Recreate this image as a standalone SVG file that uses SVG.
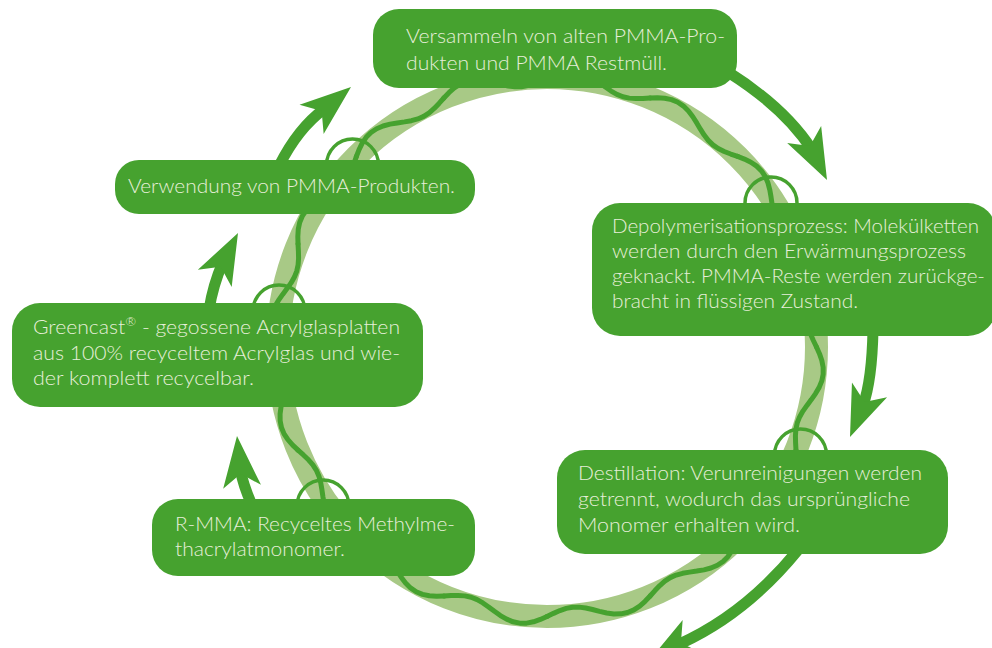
<svg xmlns="http://www.w3.org/2000/svg" xmlns:xlink="http://www.w3.org/1999/xlink" width="992" height="648" viewBox="0 0 992 648">
<style>
.box{fill:#46a22f}
.t{font-family:Lato,"Liberation Sans",sans-serif;font-weight:300;font-size:19.5px;fill:#e6efd9}
.shaft{fill:none;stroke:#46a22f;stroke-width:11}
.head{fill:#46a22f}
.ring{fill:none;stroke:#a8c986;stroke-width:23}
.wave{fill:none;stroke:#46a22f;stroke-width:5;stroke-linejoin:round;stroke-linecap:round}
.mark{fill:none;stroke:#46a22f;stroke-width:3.5}
</style>
<defs>
<path id="wv" d="M269.5,0 L272.48,6.69 L274.83,13.5 L276.14,20.37 L276.16,27.2 L274.81,33.89 L272.18,40.37 L268.55,46.6 L264.32,52.58 L259.97,58.38 L255.93,64.11 L252.62,69.91 L250.24,75.91 L248.88,82.22 L248.42,88.89 L248.59,95.89 L248.99,103.13"/>
<path id="hd" d="M0,0 L-51,-19 L-38,0 L-51,19 Z"/>
</defs>
<g id="ring">
<circle class="ring" cx="547" cy="347" r="269.5"/>
<g class="wave" transform="translate(547 347)">
<use xlink:href="#wv"/>
<use xlink:href="#wv" transform="rotate(22.5)"/>
<use xlink:href="#wv" transform="rotate(45)"/>
<use xlink:href="#wv" transform="rotate(67.5)"/>
<use xlink:href="#wv" transform="rotate(90)"/>
<use xlink:href="#wv" transform="rotate(112.5)"/>
<use xlink:href="#wv" transform="rotate(135)"/>
<use xlink:href="#wv" transform="rotate(157.5)"/>
<use xlink:href="#wv" transform="rotate(180)"/>
<use xlink:href="#wv" transform="rotate(202.5)"/>
<use xlink:href="#wv" transform="rotate(225)"/>
<use xlink:href="#wv" transform="rotate(247.5)"/>
<use xlink:href="#wv" transform="rotate(270)"/>
<use xlink:href="#wv" transform="rotate(292.5)"/>
<use xlink:href="#wv" transform="rotate(315)"/>
<use xlink:href="#wv" transform="rotate(337.5)"/>
</g>
<circle class="mark" cx="352.5" cy="165" r="26"/>
<circle class="mark" cx="279" cy="311" r="26"/>
<circle class="mark" cx="323" cy="506" r="26"/>
<circle class="mark" cx="771" cy="203" r="26"/>
<circle class="mark" cx="800.5" cy="455" r="26"/>
</g>
<g id="connectors">
<path class="shaft" d="M728,72 Q785,108 811.8,149.6"/>
<use class="head" xlink:href="#hd" transform="translate(827 180) rotate(63.4)"/>
<path class="shaft" d="M873,330 Q872,380 863,405.6"/>
<use class="head" xlink:href="#hd" transform="translate(850 437) rotate(112.5)"/>
<path class="shaft" d="M798,550 Q745,615 677.4,645"/>
<use class="head" xlink:href="#hd" transform="translate(648 662) rotate(150)"/>
<path class="shaft" d="M252,505 Q243,485 240.4,469.8"/>
<use class="head" xlink:href="#hd" transform="translate(237 436) rotate(264.3)"/>
<path class="shaft" d="M209,310 Q213,285 222.5,263.3"/>
<use class="head" xlink:href="#hd" transform="translate(238 233) rotate(-62.9)"/>
<path class="shaft" d="M279,166 Q298,128 324.7,108.6"/>
<use class="head" xlink:href="#hd" transform="translate(351 87) rotate(-39.4)"/>
</g>
<g id="n-sammeln">
<rect class="box" x="373" y="9" width="364" height="79" rx="26"/>
<text class="t" x="406" y="43" textLength="319" lengthAdjust="spacingAndGlyphs">Versammeln von alten PMMA-Pro-</text>
<text class="t" x="406" y="70" textLength="261" lengthAdjust="spacingAndGlyphs">dukten und PMMA Restmüll.</text>
</g>
<g id="n-depol">
<rect class="box" x="592" y="203" width="404" height="133" rx="28"/>
<text class="t" x="612" y="233" textLength="367" lengthAdjust="spacingAndGlyphs">Depolymerisationsprozess: Molekülketten</text>
<text class="t" x="612" y="258" textLength="354" lengthAdjust="spacingAndGlyphs">werden durch den Erwärmungsprozess</text>
<text class="t" x="612" y="283" textLength="373" lengthAdjust="spacingAndGlyphs">geknackt. PMMA-Reste werden zurückge-</text>
<text class="t" x="612" y="308" textLength="246" lengthAdjust="spacingAndGlyphs">bracht in flüssigen Zustand.</text>
</g>
<g id="n-destillation">
<rect class="box" x="557" y="450" width="391" height="104" rx="28"/>
<text class="t" x="578" y="480" textLength="344" lengthAdjust="spacingAndGlyphs">Destillation: Verunreinigungen werden</text>
<text class="t" x="578" y="506" textLength="332" lengthAdjust="spacingAndGlyphs">getrennt, wodurch das ursprüngliche</text>
<text class="t" x="578" y="532" textLength="222" lengthAdjust="spacingAndGlyphs">Monomer erhalten wird.</text>
</g>
<g id="n-rmma">
<rect class="box" x="152" y="499" width="323" height="77" rx="26"/>
<text class="t" x="175" y="531" textLength="280" lengthAdjust="spacingAndGlyphs">R-MMA: Recyceltes Methylme-</text>
<text class="t" x="175" y="556" textLength="170" lengthAdjust="spacingAndGlyphs">thacrylatmonomer.</text>
</g>
<g id="n-greencast">
<rect class="box" x="12" y="303" width="411" height="104" rx="28"/>
<text class="t" x="33" y="334" textLength="367" lengthAdjust="spacingAndGlyphs">Greencast<tspan font-size="12" dy="-8">®</tspan><tspan dy="8"> - gegossene Acrylglasplatten</tspan></text>
<text class="t" x="33" y="360" textLength="367" lengthAdjust="spacingAndGlyphs">aus 100% recyceltem Acrylglas und wie-</text>
<text class="t" x="33" y="385" textLength="221" lengthAdjust="spacingAndGlyphs">der komplett recycelbar.</text>
</g>
<g id="n-verwendung">
<rect class="box" x="115" y="160" width="360" height="54" rx="24"/>
<text class="t" x="128" y="193" textLength="327" lengthAdjust="spacingAndGlyphs">Verwendung von PMMA-Produkten.</text>
</g>
</svg>
